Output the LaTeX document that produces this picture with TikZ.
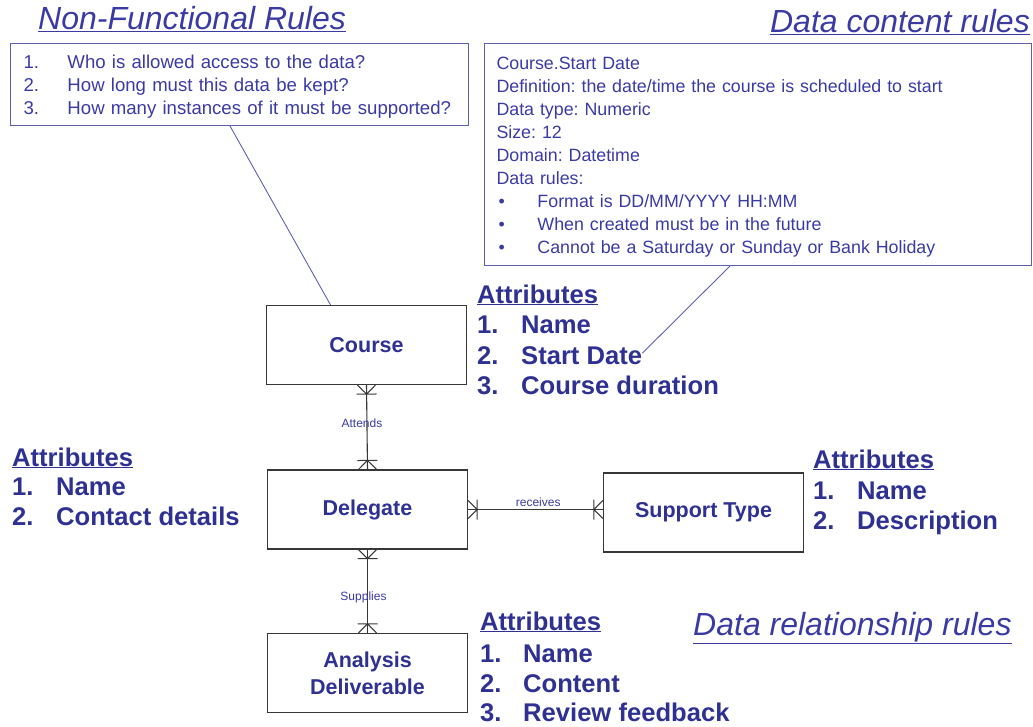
\documentclass[tikz,border=0pt]{standalone}
\usepackage{fontspec}
\setmainfont{Liberation Sans}
\usetikzlibrary{decorations.markings}
\frenchspacing

\definecolor{inkblue}{RGB}{46,49,146}
\definecolor{noteblue}{RGB}{58,58,165}
\definecolor{frameblue}{RGB}{95,95,178}
\definecolor{erline}{RGB}{55,55,55}

\tikzset{
  entity/.style={draw=erline, line width=1.2pt, minimum width=200pt, minimum height=79pt,
    inner sep=0pt, align=center, text=inkblue, font=\fontsize{21.5}{27}\selectfont\bfseries},
  attr/.style={anchor=base west, inner sep=0pt, text=inkblue, font=\fontsize{25.6}{30}\selectfont\bfseries},
  heading/.style={inner sep=0pt, text=noteblue, font=\fontsize{32}{37}\selectfont\itshape},
  rulebox/.style={draw=frameblue, line width=1pt, anchor=north west, inner ysep=0pt,
    align=left, text=noteblue},
  rellabel/.style={inner sep=0pt, text=noteblue, font=\fontsize{12}{14}\selectfont},
  callout/.style={draw=frameblue, line width=0.9pt},
  % one-or-many (crow's foot with bar) at both ends of a relationship line
  onemany/.style={draw=erline, line width=1.1pt,
    decoration={markings,
      mark=at position 0 with {\draw[erline, line width=1pt]
        (0pt,9pt) -- (9pt,0pt) -- (0pt,-9pt) (9pt,10pt) -- (9pt,-10pt);},
      mark=at position 1 with {\draw[erline, line width=1pt]
        (0pt,9pt) -- (-9pt,0pt) -- (0pt,-9pt) (-9pt,10pt) -- (-9pt,-10pt);}},
    postaction={decorate}}
}

\newcommand{\itemno}[1]{\makebox[44pt][l]{#1}}

\begin{document}
\begin{tikzpicture}[x=1pt, y=-1pt]
\useasboundingbox (0,0) rectangle (1033,726);

% ---- headings ----
\node[heading, anchor=base west] (hnf) at (38,29) {\underline{Non-Functional Rules}};
\node[heading, anchor=base east] (hdc) at (1030,32) {\underline{Data content rules}};
\node[heading, anchor=base west] (hdr) at (693,635) {\underline{Data relationship rules}};

% ---- rule boxes ----
\node[rulebox, text width=432pt, inner xsep=13pt, minimum height=82pt,
      font=\fontsize{18.6}{23}\selectfont] (nfrules) at (10,43)
  {\rule{0pt}{17.6pt}\itemno{1.}Who is allowed access to the data?\\
   \itemno{2.}How long must this data be kept?\\
   \itemno{3.}How many instances of it must be supported?};

\node[rulebox, text width=523pt, inner xsep=12pt, minimum height=222pt,
      font=\fontsize{17.8}{23}\selectfont] (datarules) at (484,43)
  {\rule{0pt}{17.8pt}Course.Start Date\\
   Definition: the date/time the course is scheduled to start\\
   Data type: Numeric\\
   Size: 12\\
   Domain: Datetime\\
   Data rules:\\
   \makebox[41pt][l]{\hspace{2pt}•}Format is DD/MM/YYYY HH:MM\\
   \makebox[41pt][l]{\hspace{2pt}•}When created must be in the future\\
   \makebox[41pt][l]{\hspace{2pt}•}Cannot be a Saturday or Sunday or Bank Holiday};

% ---- entities ----
\node[entity] (course)   at (366.5,345)   {Course};
\node[entity] (delegate) at (367.5,509.5) {Delegate};
\node[entity] (support)  at (703.5,512.5) {Support Type};
\node[entity] (analysis) at (367.5,673)   {Analysis\\Deliverable};

% ---- attribute lists ----
\node[attr] (cah) at (477,303) {\underline{Attributes}};
\node[attr] (ca1) at (477,333) {\itemno{1.}Name};
\node[attr] (ca2) at (477,364) {\itemno{2.}Start Date};
\node[attr] (ca3) at (477,394) {\itemno{3.}Course duration};

\node[attr] (dah) at (12,466) {\underline{Attributes}};
\node[attr] (da1) at (12,495) {\itemno{1.}Name};
\node[attr] (da2) at (12,525) {\itemno{2.}Contact details};

\node[attr] (sah) at (813,468) {\underline{Attributes}};
\node[attr] (sa1) at (813,499) {\itemno{1.}Name};
\node[attr] (sa2) at (813,529) {\itemno{2.}Description};

\node[attr] (aah) at (480,630) {\underline{Attributes}};
\node[attr] (aa1) at (480,662) {\makebox[43pt][l]{1.}Name};
\node[attr] (aa2) at (480,692) {\makebox[43pt][l]{2.}Content};
\node[attr] (aa3) at (480,721) {\makebox[43pt][l]{3.}Review feedback};

% ---- relationships ----
\draw[onemany] (course.south) -- (delegate.north)
  node[rellabel, pos=0.45, xshift=-5pt] {Attends};
\draw[onemany] (delegate.east) -- (delegate.east -| support.west)
  node[rellabel, pos=0.52, yshift=7pt] {receives};
\draw[onemany] (delegate.south) -- (analysis.north)
  node[rellabel, pos=0.57, xshift=-4pt] {Supplies};

% ---- callouts from rule boxes ----
\draw[callout] ([xshift=220pt]nfrules.south west) -- ([xshift=-36pt]course.north);
\draw[callout] ([xshift=246pt]datarules.south west) -- ([yshift=2pt]ca2.east);

\end{tikzpicture}
\end{document}
